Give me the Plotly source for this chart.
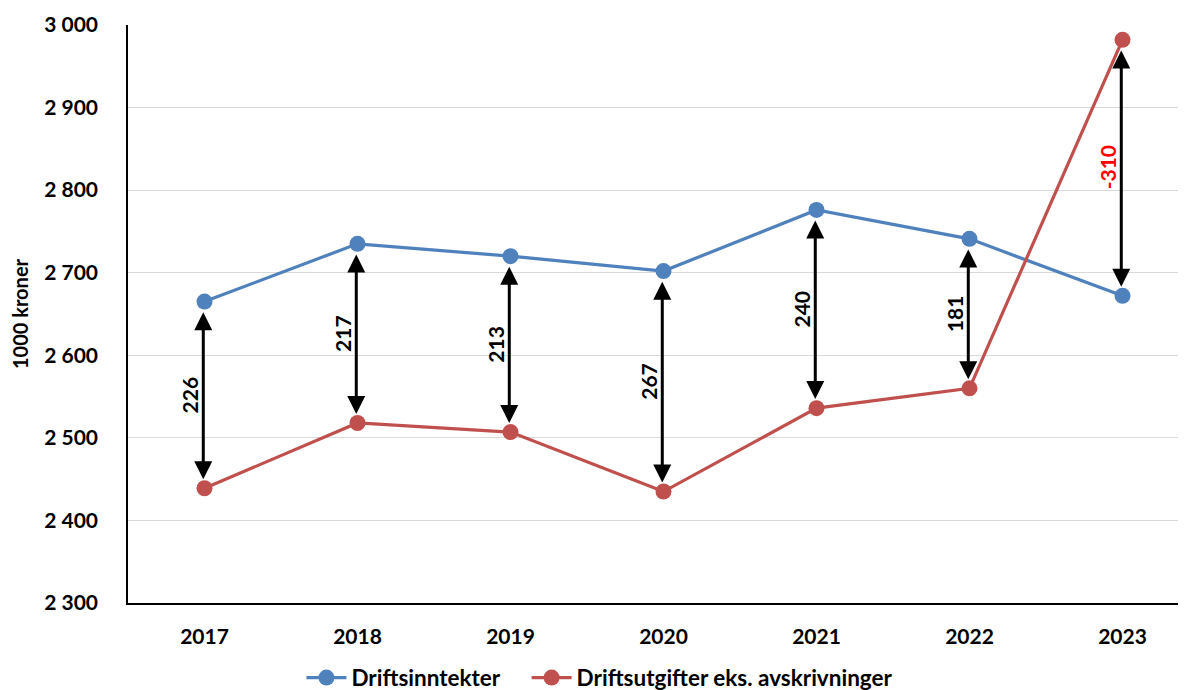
import plotly.graph_objects as go

years = ["2017", "2018", "2019", "2020", "2021", "2022", "2023"]
inntekter = [2665, 2735, 2720, 2702, 2776, 2741, 2672]
utgifter = [2439, 2518, 2507, 2435, 2536, 2560, 2982]
diff_labels = ["226", "217", "213", "267", "240", "181", "-310"]
label_colors = ["black", "black", "black", "black", "black", "black", "red"]
ytickvals = [2300, 2400, 2500, 2600, 2700, 2800, 2900, 3000]
yticktext = ["2 300", "2 400", "2 500", "2 600", "2 700", "2 800", "2 900", "3 000"]

BLUE = "#4f81bd"
RED = "#c0504d"
FONT = "Lato"

fig = go.Figure()
fig.add_trace(go.Scatter(x=list(range(len(years))), y=inntekter, mode="lines+markers",
                         name="Driftsinntekter" + "\u00a0" * 4,
                         line=dict(color=BLUE, width=3.2), marker=dict(size=16, color=BLUE)))
fig.add_trace(go.Scatter(x=list(range(len(years))), y=utgifter, mode="lines+markers",
                         name="Driftsutgifter eks. avskrivninger",
                         line=dict(color=RED, width=3.2), marker=dict(size=16, color=RED)))

gap = 11  # value units gap near markers
for i, (a, b) in enumerate(zip(inntekter, utgifter)):
    top, bot = max(a, b), min(a, b)
    fig.add_annotation(x=i - 0.008, y=bot + gap, ax=i - 0.008, ay=top - gap,
                       xref="x", yref="y", axref="x", ayref="y",
                       showarrow=True, arrowside="end+start", arrowhead=2, arrowsize=1.2,
                       arrowwidth=3, arrowcolor="black", text="")
    fig.add_annotation(x=i, y=(a + b) / 2, xref="x", yref="y", text=diff_labels[i],
                       showarrow=False, textangle=-90, xshift=-15,
                       font=dict(family=FONT, size=21, color=label_colors[i], weight="bold"))

fig.update_layout(
    width=1178, height=682,
    margin=dict(l=120, r=0, t=17, b=87, autoexpand=False),
    plot_bgcolor="white", paper_bgcolor="white",
    font=dict(family=FONT, size=20, color="black"),
    showlegend=True,
    legend=dict(orientation="h", xref="container", yref="container", x=0.5025, y=0.0176,
                xanchor="center", yanchor="middle",
                font=dict(family=FONT, size=22.5, color="black", weight="bold"),
                itemwidth=40, tracegroupgap=0),
    xaxis=dict(range=[-0.5, 6.415], tickvals=list(range(len(years))), ticktext=years,
               showgrid=False, showline=True, linecolor="black", linewidth=1.5,
               ticks="", zeroline=False, ticklabelstandoff=14,
               tickfont=dict(family=FONT, size=21, color="black", weight="bold")),
    yaxis=dict(range=[2300, 3000], tickvals=ytickvals, ticktext=yticktext,
               showgrid=True, gridcolor="#d9d9d9", gridwidth=1,
               showline=True, linecolor="black", linewidth=1.5, zeroline=False,
               ticks="", ticklabelstandoff=24,
               tickfont=dict(family=FONT, size=21, color="black", weight="bold"),
               title=dict(text="1000 kroner", standoff=12,
                          font=dict(family=FONT, size=20, color="black", weight="bold"))),
)

fig.write_html("out.html")
